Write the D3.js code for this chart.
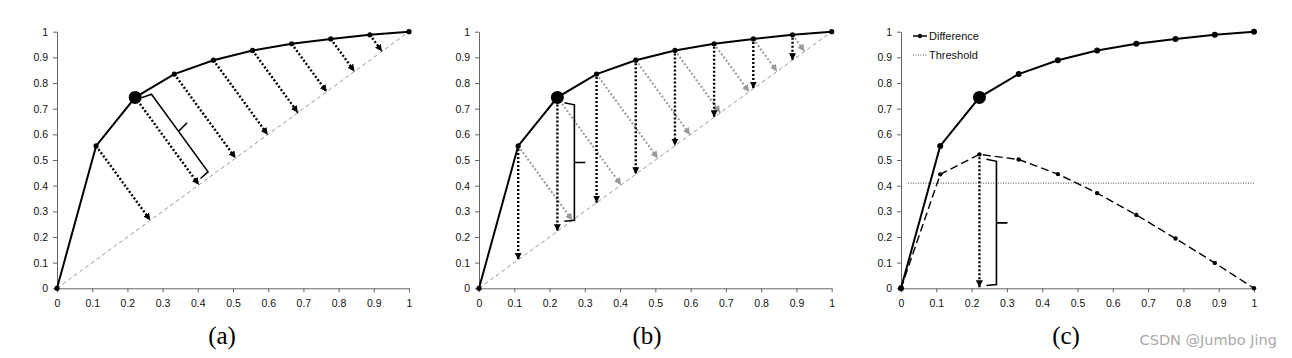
<!DOCTYPE html>
<html><head><meta charset="utf-8">
<script src="https://cdn.jsdelivr.net/npm/d3@7"></script>
<style>body{margin:0;background:#fff}svg{display:block}</style>
</head><body>
<svg id="c" width="1292" height="358"></svg>
<script>
// ---- data ----
const xTicks = [0,0.1,0.2,0.3,0.4,0.5,0.6,0.7,0.8,0.9,1];
const tickLabels = ["0","0.1","0.2","0.3","0.4","0.5","0.6","0.7","0.8","0.9","1"];
const xValues = [0,1/9,2/9,3/9,4/9,5/9,6/9,7/9,8/9,1];
const curveValues = [0,0.555,0.744,0.835,0.889,0.927,0.953,0.972,0.988,1];
const differenceValues = [0,0.444,0.522,0.502,0.445,0.371,0.286,0.194,0.099,0];
const thresholdValue = 0.41;
const bestIndex = 2;
const panelLabels = ["(a)","(b)","(c)"];
const legendLabels = ["Difference","Threshold"];

const svg = d3.select("#c");
svg.append("rect").attr("width",1292).attr("height",358).attr("fill","#fff");
const defs = svg.append("defs");
function mk(id,color){
  defs.append("marker").attr("id",id).attr("markerUnits","userSpaceOnUse")
    .attr("markerWidth",8).attr("markerHeight",7).attr("refX",7).attr("refY",3.5)
    .attr("orient","auto").append("path").attr("d","M0,0 L7,3.5 L0,7 Z").attr("fill",color);
}
mk("ab","#000"); mk("ag","#999");

const panels = [
  {x0:57, x1:409, lx:222},
  {x0:479, x1:831.7, lx:647},
  {x0:901, x1:1254, lx:1066}
];
const yTop = 31.7, yBot = 288.3;

function vBracket(g, bx, yt, yb){
  const ym = (yt+yb)/2;
  const path = d3.path();
  path.moveTo(bx-10, yt-2); path.lineTo(bx, yt); path.lineTo(bx, yb); path.lineTo(bx-10, yb+1);
  path.moveTo(bx, ym); path.lineTo(bx+11, ym);
  g.append("path").attr("d",path.toString()).attr("fill","none").attr("stroke","#000").attr("stroke-width",1.6);
}

panels.forEach((p,pi)=>{
  const x = d3.scaleLinear().domain([0,1]).range([p.x0,p.x1]);
  const y = d3.scaleLinear().domain([0,1]).range([yBot,yTop]);
  const g = svg.append("g");

  // axes
  const ax = g.append("g").attr("transform",`translate(0,${yBot})`)
    .call(d3.axisBottom(x).tickValues(xTicks).tickFormat((d,i)=>tickLabels[i]).tickSize(4).tickPadding(7).tickSizeOuter(0));
  const ay = g.append("g").attr("transform",`translate(${p.x0},0)`)
    .call(d3.axisLeft(y).tickValues(xTicks).tickFormat((d,i)=>tickLabels[i]).tickSize(4).tickPadding(5).tickSizeOuter(0));
  [ax,ay].forEach(a=>{
    a.select(".domain").attr("stroke","#666");
    a.selectAll(".tick line").attr("stroke","#666");
    a.selectAll("text").attr("font-family","Liberation Sans, Arial, sans-serif").attr("font-size",10.5).attr("fill","#111");
  });

  const pts = xValues.map((v,i)=>[x(v), y(curveValues[i])]);

  if (pi < 2) {
    g.append("line").attr("x1",x(0)).attr("y1",y(0)).attr("x2",x(1)).attr("y2",y(1))
      .attr("stroke","#999").attr("stroke-width",1).attr("stroke-dasharray","4,3");
    const ox = x(0), oy = y(0);
    const dx = x(1)-x(0), dy = y(1)-y(0);
    const L = Math.hypot(dx,dy), ux = dx/L, uy = dy/L;
    const foot = (px,py)=>{const t=(px-ox)*ux+(py-oy)*uy; return [ox+t*ux, oy+t*uy];};
    for (let i=1;i<xValues.length-1;i++){
      const [px,py] = pts[i]; const [fx,fy] = foot(px,py);
      g.append("line").attr("x1",px).attr("y1",py).attr("x2",fx).attr("y2",fy)
        .attr("stroke", pi===0?"#000":"#999").attr("stroke-width", pi===0?2.4:2)
        .attr("stroke-dasharray","2,2")
        .attr("marker-end", pi===0?"url(#ab)":"url(#ag)");
    }
    if (pi===1){
      for (let i=1;i<xValues.length-1;i++){
        g.append("line").attr("x1",x(xValues[i])).attr("y1",y(curveValues[i])+3)
          .attr("x2",x(xValues[i])).attr("y2",y(xValues[i]))
          .attr("stroke","#000").attr("stroke-width",2.4).attr("stroke-dasharray","2,2")
          .attr("marker-end","url(#ab)");
      }
    }
    if (pi===0){
      const [px,py] = pts[bestIndex];
      const [fx,fy] = foot(px,py);
      const len = Math.hypot(fx-px,fy-py);
      const vx=(fx-px)/len, vy=(fy-py)/len;
      const nx = vy, ny = -vx;
      const P=(a,o)=>[px+a*vx+o*nx, py+a*vy+o*ny];
      const a0=7, a1=103, m=53, o=15;
      const path = d3.path();
      let q=P(a0-3,o-10); path.moveTo(...q);
      q=P(a0,o); path.lineTo(...q);
      q=P(m,o); path.lineTo(...q);
      q=P(m-2,o+12); path.lineTo(...q);
      q=P(m,o); path.moveTo(...q);
      q=P(a1,o); path.lineTo(...q);
      q=P(a1+1,o-10); path.lineTo(...q);
      g.append("path").attr("d",path.toString()).attr("fill","none").attr("stroke","#000").attr("stroke-width",1.6);
    } else {
      vBracket(g, x(xValues[bestIndex])+17, y(0.715), y(0.265));
    }
  } else {
    g.append("line").attr("x1",x(0.02)).attr("x2",x(1)).attr("y1",y(thresholdValue)).attr("y2",y(thresholdValue))
      .attr("stroke","#444").attr("stroke-width",1).attr("stroke-dasharray","1,1.5");
    const dline = d3.line().x((d,i)=>x(xValues[i])).y(d=>y(d));
    g.append("path").attr("d",dline(differenceValues)).attr("fill","none")
      .attr("stroke","#000").attr("stroke-width",1.4).attr("stroke-dasharray","8,4");
    g.selectAll(null).data(differenceValues).enter().append("circle")
      .attr("cx",(d,i)=>x(xValues[i])).attr("cy",d=>y(d)).attr("r",2.2).attr("fill","#000");
    g.append("line").attr("x1",x(xValues[bestIndex])).attr("x2",x(xValues[bestIndex]))
      .attr("y1",y(differenceValues[bestIndex])+3).attr("y2",y(0)-1)
      .attr("stroke","#000").attr("stroke-width",2.4).attr("stroke-dasharray","2,2").attr("marker-end","url(#ab)");
    vBracket(g, x(xValues[bestIndex])+17, y(0.495), y(0.015));
    const lg = g.append("g").attr("font-family","Liberation Sans, Arial, sans-serif").attr("font-size",11).attr("fill","#111");
    lg.append("line").attr("x1",913).attr("x2",927).attr("y1",36).attr("y2",36).attr("stroke","#000").attr("stroke-width",1.5);
    lg.append("circle").attr("cx",920).attr("cy",36).attr("r",2.2);
    lg.append("text").attr("x",929).attr("y",40).text(legendLabels[0]);
    lg.append("line").attr("x1",913).attr("x2",927).attr("y1",55).attr("y2",55).attr("stroke","#444").attr("stroke-width",1).attr("stroke-dasharray","1,1.5");
    lg.append("text").attr("x",929).attr("y",59).text(legendLabels[1]);
  }

  const line = d3.line().x(d=>d[0]).y(d=>d[1]);
  g.append("path").attr("d",line(pts)).attr("fill","none").attr("stroke","#000").attr("stroke-width",2);
  g.selectAll(null).data(pts).enter().append("circle")
    .attr("cx",d=>d[0]).attr("cy",d=>d[1]).attr("r",(d,i)=>i===bestIndex?6.5:(pi===2?3:2.6)).attr("fill","#000");

  svg.append("text").attr("x",p.lx).attr("y",344).attr("text-anchor","middle")
    .attr("font-family","Liberation Serif, Times New Roman, serif").attr("font-size",25).attr("fill","#000").text(panelLabels[pi]);
});

svg.append("text").attr("x",1277).attr("y",345).attr("text-anchor","end")
  .attr("font-family","DejaVu Sans, Liberation Sans, sans-serif").attr("font-size",14.5).attr("fill","#aaa").text("CSDN @Jumbo Jing");
</script>
</body></html>
